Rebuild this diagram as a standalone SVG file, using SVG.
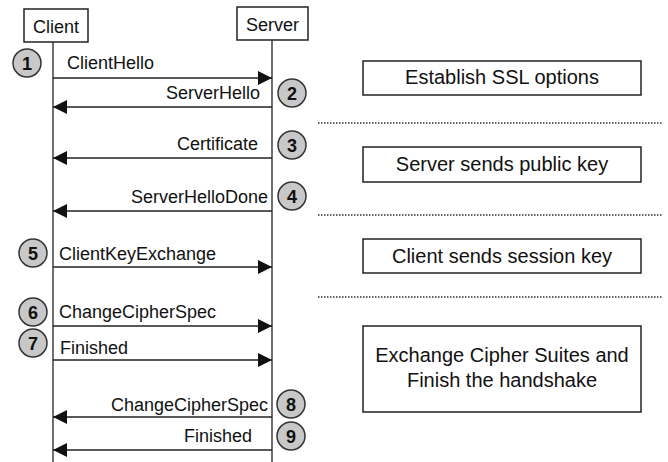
<svg xmlns="http://www.w3.org/2000/svg" width="668" height="462" viewBox="0 0 668 462">
<style>
text{font-family:"Liberation Sans",Arial,sans-serif;fill:#111}
.lbl{font-size:18px}
.box{font-size:20px;text-anchor:middle}
.num{font-size:18px;font-weight:bold;text-anchor:middle}
.frame{fill:#fff;stroke:#222;stroke-width:1.5}
.life{stroke:#333;stroke-width:1.4;fill:none}
.msg{stroke:#222;stroke-width:1.5;fill:none;marker-end:url(#ah)}
.dot{stroke:#333;stroke-width:1.3;stroke-dasharray:1.5 1.5;fill:none}
.badge{fill:#c8c8c8;stroke:#333;stroke-width:1.5}
</style>
<defs>
<marker id="ah" markerUnits="userSpaceOnUse" markerWidth="15" markerHeight="15" refX="14" refY="7" orient="auto">
<path d="M0,0 L14,7 L0,14 Z" fill="#111"/>
</marker>
</defs>
<rect width="668" height="462" fill="#fff"/>
<g id="client">
<rect class="frame" x="24" y="9" width="64" height="33"/>
<text class="lbl" x="56" y="33" text-anchor="middle">Client</text>
</g>
<g id="server">
<rect class="frame" x="237" y="7" width="71" height="33"/>
<text class="lbl" x="272.5" y="31" text-anchor="middle">Server</text>
</g>
<g id="lifelines">
<line class="life" x1="53" y1="42" x2="53" y2="462"/>
<line class="life" x1="272" y1="40" x2="272" y2="462"/>
</g>
<g id="connectors">
<line class="msg" x1="53" y1="78" x2="272" y2="78"/>
<line class="msg" x1="272" y1="107" x2="53" y2="107"/>
<line class="msg" x1="272" y1="158" x2="53" y2="158"/>
<line class="msg" x1="272" y1="211" x2="53" y2="211"/>
<line class="msg" x1="53" y1="267" x2="272" y2="267"/>
<line class="msg" x1="53" y1="326" x2="272" y2="326"/>
<line class="msg" x1="53" y1="360" x2="272" y2="360"/>
<line class="msg" x1="272" y1="417" x2="53" y2="417"/>
<line class="msg" x1="272" y1="450" x2="53" y2="450"/>
</g>
<g id="labels">
<text class="lbl" x="67" y="69">ClientHello</text>
<text class="lbl" x="260" y="99" text-anchor="end">ServerHello</text>
<text class="lbl" x="258" y="150" text-anchor="end">Certificate</text>
<text class="lbl" x="268" y="203" text-anchor="end">ServerHelloDone</text>
<text class="lbl" x="59" y="260">ClientKeyExchange</text>
<text class="lbl" x="59" y="318">ChangeCipherSpec</text>
<text class="lbl" x="60" y="354">Finished</text>
<text class="lbl" x="268" y="411" text-anchor="end">ChangeCipherSpec</text>
<text class="lbl" x="252" y="442" text-anchor="end">Finished</text>
</g>
<g id="step1"><circle class="badge" cx="27" cy="63" r="14"/><text class="num" x="27" y="69.5">1</text></g>
<g id="step2"><circle class="badge" cx="292" cy="93" r="14"/><text class="num" x="292" y="99.5">2</text></g>
<g id="step3"><circle class="badge" cx="292" cy="145" r="14"/><text class="num" x="292" y="151.5">3</text></g>
<g id="step4"><circle class="badge" cx="292" cy="196" r="14"/><text class="num" x="292" y="202.5">4</text></g>
<g id="step5"><circle class="badge" cx="33" cy="253" r="14"/><text class="num" x="33" y="259.5">5</text></g>
<g id="step6"><circle class="badge" cx="33" cy="312" r="14"/><text class="num" x="33" y="318.5">6</text></g>
<g id="step7"><circle class="badge" cx="33" cy="343" r="14"/><text class="num" x="33" y="349.5">7</text></g>
<g id="step8"><circle class="badge" cx="291" cy="404" r="14"/><text class="num" x="291" y="410.5">8</text></g>
<g id="step9"><circle class="badge" cx="291" cy="436" r="14"/><text class="num" x="291" y="442.5">9</text></g>
<g id="phase1">
<rect class="frame" x="363" y="61" width="278" height="34"/>
<text class="box" x="502" y="84">Establish SSL options</text>
</g>
<g id="phase2">
<rect class="frame" x="363" y="147" width="278" height="35"/>
<text class="box" x="502" y="171">Server sends public key</text>
</g>
<g id="phase3">
<rect class="frame" x="363" y="239" width="278" height="34"/>
<text class="box" x="502" y="263">Client sends session key</text>
</g>
<g id="phase4">
<rect class="frame" x="363" y="326" width="278" height="86"/>
<text class="box" x="502" y="362">Exchange Cipher Suites and</text>
<text class="box" x="502" y="387">Finish the handshake</text>
</g>
<g id="separators">
<line class="dot" x1="318" y1="123" x2="663" y2="123"/>
<line class="dot" x1="318" y1="215" x2="663" y2="215"/>
<line class="dot" x1="318" y1="297" x2="663" y2="297"/>
</g>
</svg>
